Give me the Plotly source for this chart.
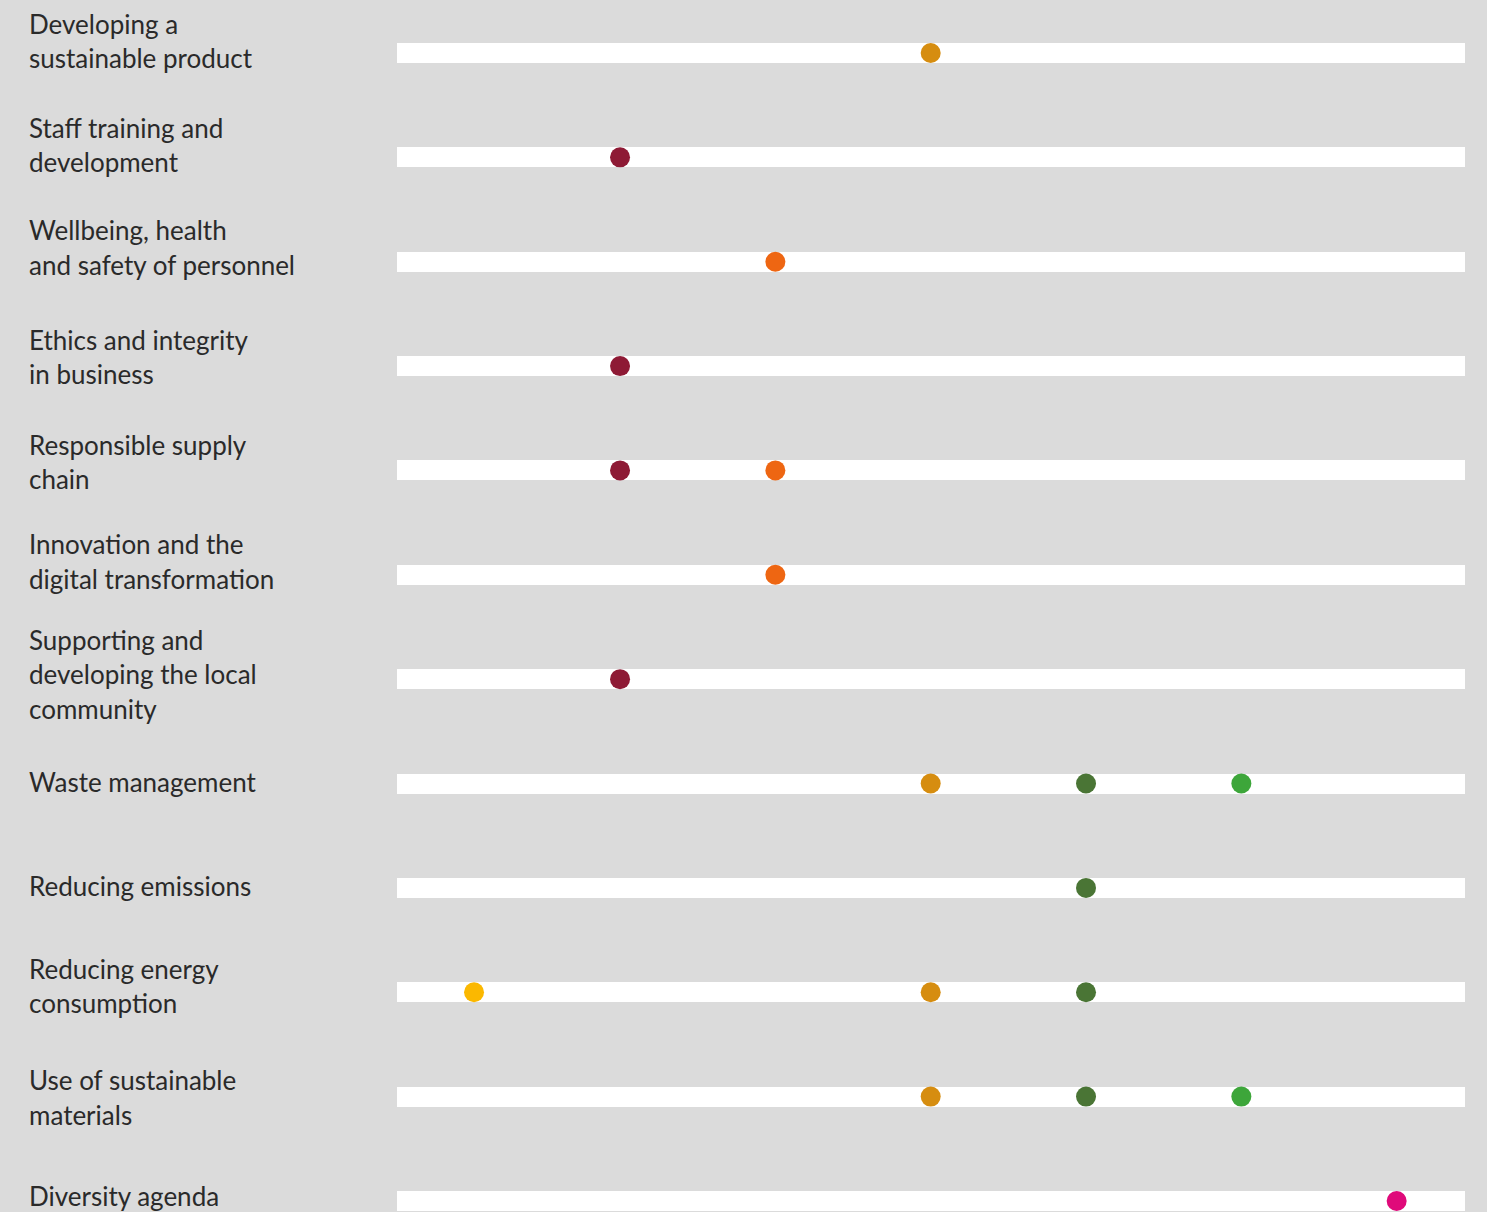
import plotly.graph_objects as go

# Material topics, top to bottom
topics = [
    "Developing a<br>sustainable product",
    "Staff training and<br>development",
    "Wellbeing, health<br>and safety of personnel",
    "Ethics and integrity<br>in business",
    "Responsible supply<br>chain",
    "Innovation and the<br>digital transformation",
    "Supporting and<br>developing the local<br>community",
    "Waste management",
    "Reducing emissions",
    "Reducing energy<br>consumption",
    "Use of sustainable<br>materials",
    "Diversity agenda",
]

# Each dot group: position on the scale and the topics (row index) it marks
yellow_pos, yellow_rows = 0.06, [9]
red_pos, red_rows = 1.0, [1, 3, 4, 6]
orange_pos, orange_rows = 2.0, [2, 4, 5]
gold_pos, gold_rows = 3.0, [0, 7, 9, 10]
darkgreen_pos, darkgreen_rows = 4.0, [7, 8, 9, 10]
green_pos, green_rows = 5.0, [7, 10]
magenta_pos, magenta_rows = 6.0, [11]

# Scale extent of the track bars
scale_min, scale_max = -0.436, 6.44

groups = [
    ("yellow", yellow_pos, yellow_rows, "#fbb800"),
    ("dark red", red_pos, red_rows, "#8e1a35"),
    ("orange", orange_pos, orange_rows, "#ee6612"),
    ("gold", gold_pos, gold_rows, "#d68d10"),
    ("dark green", darkgreen_pos, darkgreen_rows, "#4a7535"),
    ("green", green_pos, green_rows, "#3da63a"),
    ("magenta", magenta_pos, magenta_rows, "#df0a7a"),
]

W, H = 1487, 1212
ML, MR = 397, 22
ROW_PX = 104.36
FIRST_ROW_PX = 53
BAR_PX = 20
FONT = "Lato, 'Open Sans', sans-serif"
TEXT_COLOR = "#2a2a2a"
BG = "#dbdbdb"

rows = list(range(len(topics)))
y_top = -FIRST_ROW_PX / ROW_PX
y_bottom = y_top + H / ROW_PX

fig = go.Figure()

# White tracks
fig.add_trace(go.Bar(
    y=rows,
    x=[scale_max - scale_min] * len(rows),
    base=[scale_min] * len(rows),
    orientation="h",
    width=BAR_PX / ROW_PX,
    marker=dict(color="white", line=dict(width=0)),
    hoverinfo="skip",
    showlegend=False,
))

# Dots
for name, pos, rws, color in groups:
    fig.add_trace(go.Scatter(
        x=[pos] * len(rws),
        y=rws,
        mode="markers",
        name=name,
        marker=dict(size=20, color=color, line=dict(width=0)),
        showlegend=False,
    ))

# Topic labels, one annotation per line so line spacing can be set
first_baseline = [-21, -21, -23, -18, -17, -22, -31, 7, 7, -15, -8, 4]
LINE_PX = 34.5
label_x = (27 - ML) / (W - ML - MR)
annotations = []
for i, label in enumerate(topics):
    for j, line in enumerate(label.split("<br>")):
        baseline = first_baseline[i] + j * LINE_PX
        annotations.append(dict(
            x=label_x, xref="paper", xanchor="left",
            y=i, yref="y", yanchor="middle",
            yshift=-(baseline - 8.5),
            text=line, showarrow=False, align="left",
            font=dict(family=FONT, size=26, color=TEXT_COLOR),
        ))

fig.update_layout(
    width=W, height=H,
    margin=dict(l=ML, r=MR, t=0, b=0, pad=0),
    paper_bgcolor=BG, plot_bgcolor=BG,
    xaxis=dict(range=[scale_min, scale_max], visible=False, fixedrange=True),
    yaxis=dict(range=[y_bottom, y_top], visible=False, fixedrange=True),
    annotations=annotations,
    bargap=0,
)

fig.write_html("out.html", config={"displayModeBar": False})
